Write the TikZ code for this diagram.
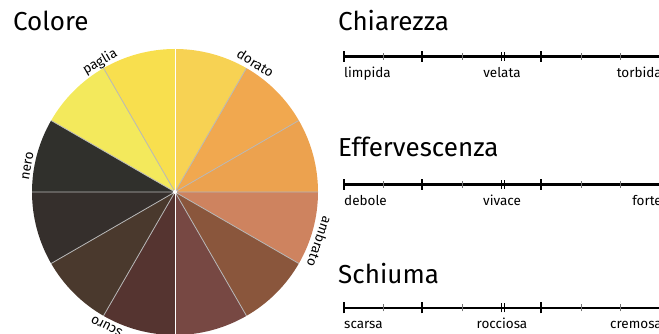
\documentclass[tikz,border=0pt]{standalone}
\usepackage{fontspec}
\setmainfont{Fira Sans}
\setsansfont{Fira Sans}
\definecolor{dorato1}{HTML}{F7D253}
\definecolor{dorato2}{HTML}{F1A84F}
\definecolor{dorato3}{HTML}{ECA24F}
\definecolor{ambrato1}{HTML}{CE835F}
\definecolor{ambrato2}{HTML}{8A563C}
\definecolor{ambrato3}{HTML}{774843}
\definecolor{scuro1}{HTML}{553430}
\definecolor{scuro2}{HTML}{4A392D}
\definecolor{scuro3}{HTML}{352F2C}
\definecolor{nero1}{HTML}{30302C}
\definecolor{paglia1}{HTML}{F3E95C}
\definecolor{paglia2}{HTML}{F8DF4E}
\begin{document}
\begin{tikzpicture}[
   x=1pt,y=1pt,
   font=\sffamily,
   every node/.style={inner sep=0pt},
   title/.style={font=\fontsize{26}{30}\selectfont,anchor=base west},
   lbl/.style={font=\fontsize{13.5}{16}\selectfont,anchor=base},
   sep/.style={draw=black!28,line width=0.8pt},
   axis/.style={line width=2.4pt},
   bigtick/.style={line width=2pt},
   smalltick/.style={draw=black!55,line width=0.9pt},
   dbltick/.style={line width=1pt}]
\useasboundingbox (0,0) rectangle (659,334);
% colour wheel
\coordinate (W) at (175,142);
\fill[dorato1]  (W) -- ++(60:143) arc[start angle=60,end angle=90,radius=143] -- cycle;
\fill[dorato2]  (W) -- ++(30:143) arc[start angle=30,end angle=60,radius=143] -- cycle;
\fill[dorato3]  (W) -- ++(0:143) arc[start angle=0,end angle=30,radius=143] -- cycle;
\fill[ambrato1] (W) -- ++(-30:143) arc[start angle=-30,end angle=0,radius=143] -- cycle;
\fill[ambrato2] (W) -- ++(-60:143) arc[start angle=-60,end angle=-30,radius=143] -- cycle;
\fill[ambrato3] (W) -- ++(-90:143) arc[start angle=-90,end angle=-60,radius=143] -- cycle;
\fill[scuro1]   (W) -- ++(-120:143) arc[start angle=-120,end angle=-90,radius=143] -- cycle;
\fill[scuro2]   (W) -- ++(-150:143) arc[start angle=-150,end angle=-120,radius=143] -- cycle;
\fill[scuro3]   (W) -- ++(-180:143) arc[start angle=-180,end angle=-150,radius=143] -- cycle;
\fill[nero1]    (W) -- ++(150:143) arc[start angle=150,end angle=180,radius=143] -- cycle;
\fill[paglia1]  (W) -- ++(120:143) arc[start angle=120,end angle=150,radius=143] -- cycle;
\fill[paglia2]  (W) -- ++(90:143) arc[start angle=90,end angle=120,radius=143] -- cycle;
\draw[sep] (W) -- ++(0:143) (W) -- ++(30:143) (W) -- ++(60:143) (W) -- ++(120:143) (W) -- ++(150:143);
\draw[sep] (W) -- ++(180:143) (W) -- ++(210:143) (W) -- ++(240:143) (W) -- ++(300:143) (W) -- ++(330:143);
\draw[white,line width=1pt] (W) -- ++(90:143) (W) -- ++(270:143);
\fill[white] (W) circle[radius=2];
\node[title] (colore) at (13,303) {Colore};
\node[lbl,rotate=30]   (paglia)  at ([shift={(120:146)}]W) {paglia};
\node[lbl,rotate=-32]  (dorato)  at ([shift={(58:147)}]W) {dorato};
\node[lbl,rotate=80]   (nero)    at ([shift={(170:146)}]W) {nero};
\node[lbl,rotate=-109] (ambrato) at ([shift={(-19:148)}]W) {ambrato};
\node[lbl,rotate=153]  (scuro)   at ([shift={(-117:147)}]W) {scuro};
% Chiarezza
\node[title] (chiarezza) at (338,303) {Chiarezza};
\draw[axis] (344,277.5) -- (664,277.5);
\draw[bigtick] (344,272) -- (344,283) (422,272) -- (422,283) (541,272) -- (541,283);
\draw[smalltick] (383,274) -- (383,281) (462,274) -- (462,281) (581,274) -- (581,281) (620,274) -- (620,281);
\draw[dbltick] (501,273) -- (501,282) (504,273) -- (504,282);
\node[lbl,anchor=base west] (limpida) at (344,256.5) {limpida};
\node[lbl] (velata) at (502,256.5) {velata};
\node[lbl,anchor=base east] (torbida) at (662,256.5) {torbida};
% Effervescenza
\node[title] (effervescenza) at (338,177) {Effervescenza};
\draw[axis] (344,149.5) -- (664,149.5);
\draw[bigtick] (344,144) -- (344,155) (422,144) -- (422,155) (541,144) -- (541,155);
\draw[smalltick] (383,146) -- (383,153) (462,146) -- (462,153) (581,146) -- (581,153) (620,146) -- (620,153);
\draw[dbltick] (501,145) -- (501,154) (504,145) -- (504,154);
\node[lbl,anchor=base west] (debole) at (344,128.5) {debole};
\node[lbl] (vivace) at (502,128.5) {vivace};
\node[lbl,anchor=base east] (forte) at (662,128.5) {forte};
% Schiuma
\node[title] (schiuma) at (338,50) {Schiuma};
\draw[axis] (344,26) -- (664,26);
\draw[bigtick] (344,20.5) -- (344,31.5) (422,20.5) -- (422,31.5) (541,20.5) -- (541,31.5);
\draw[smalltick] (383,22.5) -- (383,29.5) (462,22.5) -- (462,29.5) (581,22.5) -- (581,29.5) (620,22.5) -- (620,29.5);
\draw[dbltick] (501,21.5) -- (501,30.5) (504,21.5) -- (504,30.5);
\node[lbl,anchor=base west] (scarsa) at (344,5) {scarsa};
\node[lbl] (rocciosa) at (502,5) {rocciosa};
\node[lbl,anchor=base east] (cremosa) at (662,5) {cremosa};
\end{tikzpicture}
\end{document}
